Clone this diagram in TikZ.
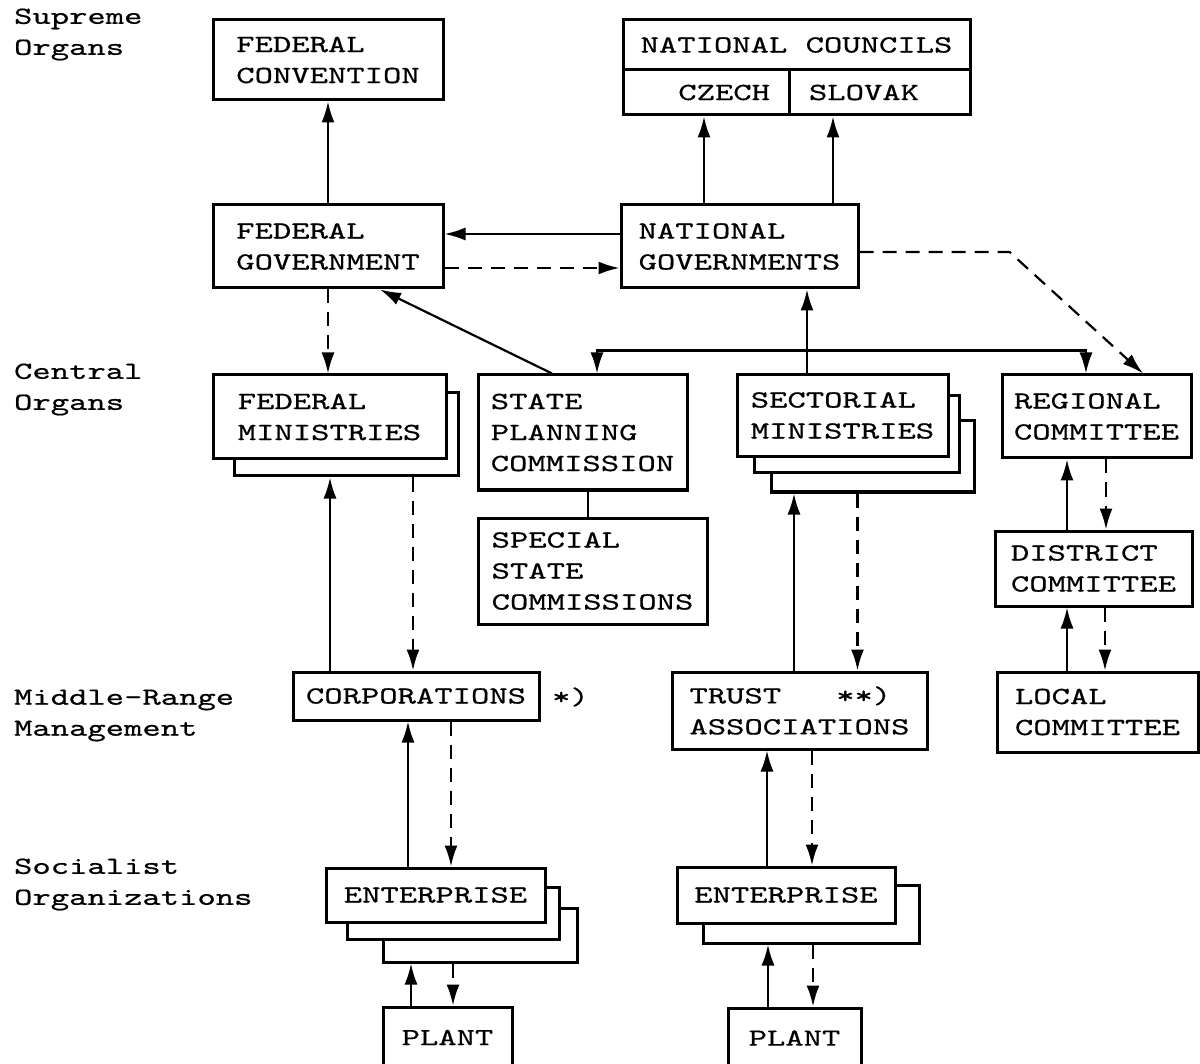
\documentclass[tikz,border=0pt]{standalone}
\usepackage{fontspec}
\newfontfamily\tw{lmmono10-regular.otf}[FakeStretch=1.42,FakeBold=0.6]
\usetikzlibrary{arrows.meta}

\begin{document}
\begin{tikzpicture}[x=1pt, y=-1pt, line width=2.2pt,
        box/.style={draw, fill=white, line width=3pt, inner sep=0pt,
          align=left, font=\tw\fontsize{24.6}{31}\selectfont},
        back/.style={draw, fill=white, line width=3pt, inner sep=0pt},
        lbl/.style={anchor=west, inner sep=0pt, align=left,
          font=\tw\fontsize{24.6}{31}\selectfont},
        dsh/.style={dash pattern=on 14pt off 9pt},
        >={Latex[length=21pt,width=13pt]}]
     \path[use as bounding box, clip] (0,0) rectangle (1200,1064);
     \node (sup) at (13,34.5) [lbl] {Supreme\\Organs};
     \node (cen) at (13,389.5) [lbl] {Central\\Organs};
     \node (mid) at (13,715.5) [lbl] {Middle-Range\\Management};
     \node (soc) at (13,884.5) [lbl] {Socialist\\Organizations};
     \node (fconv) at (328,60) [box, minimum width=230pt, minimum height=80pt] {FEDERAL\\CONVENTION};
     \node (ncoun) at (796.5,45) [box, minimum width=347pt, minimum height=50pt] {NATIONAL COUNCILS};
     \node (czech) at (706,92.5) [box, text width=128pt, inner xsep=19pt, align=right, minimum height=45pt] {CZECH};
     \node (slovak) at (879.5,92.5) [box, text width=141pt, inner xsep=20pt, minimum height=45pt] {SLOVAK};
     \node (fgov) at (328,246.5) [box, minimum width=230pt, minimum height=83pt] {FEDERAL\\GOVERNMENT};
     \node (ngov) at (739.5,246.5) [box, minimum width=237pt, minimum height=83pt] {NATIONAL\\GOVERNMENTS};
     \node (fminb) at (346,434.5) [back, minimum width=224pt, minimum height=83pt] {};
     \node (fmin) at (329.5,417) [box, minimum width=233pt, minimum height=84pt] {FEDERAL\\MINISTRIES};
     \node (spc) at (582.5,432.5) [box, minimum width=209pt, minimum height=115pt] {STATE\\PLANNING\\COMMISSION};
     \node (ssc) at (592.5,571) [box, minimum width=229pt, minimum height=106pt] {SPECIAL\\STATE\\COMMISSIONS};
     \node (sectc) at (872.5,456.5) [back, minimum width=203pt, minimum height=71pt] {};
     \node (sectb) at (856.5,434.5) [back, minimum width=205pt, minimum height=77pt] {};
     \node (sect) at (842.5,415.5) [box, minimum width=211pt, minimum height=82pt] {SECTORIAL\\MINISTRIES};
     \node (reg) at (1096.5,416.5) [box, minimum width=189pt, minimum height=83pt] {REGIONAL\\COMMITTEE};
     \node (dist) at (1093.5,568.5) [box, minimum width=197pt, minimum height=75pt] {DISTRICT\\COMMITTEE};
     \node (local) at (1097.5,712) [box, minimum width=201pt, minimum height=80pt] {LOCAL\\COMMITTEE};
     \node (corp) at (416,696) [box, minimum width=246pt, minimum height=48pt] {CORPORATIONS};
     \node (star) at (551,697) [lbl] {*)};
     \node (trust) at (799.5,710.5) [box, minimum width=255pt, minimum height=77pt] {TRUST\ \ \ **)\\ASSOCIATIONS};
     \node (entlc) at (480,935) [back, minimum width=194pt, minimum height=54pt] {};
     \node (entlb) at (453,913) [back, minimum width=212pt, minimum height=52pt] {};
     \node (entl) at (435.5,895) [box, minimum width=219pt, minimum height=54pt] {ENTERPRISE};
     \node (plantl) at (447.5,1037.5) [box, minimum width=129pt, minimum height=61pt] {PLANT};
     \node (entrb) at (811,914) [back, minimum width=216pt, minimum height=58pt] {};
     \node (entr) at (786,895) [box, minimum width=218pt, minimum height=56pt] {ENTERPRISE};
     \node (plantr) at (794.5,1038) [box, minimum width=133pt, minimum height=60pt] {PLANT};
      \draw[->] (fgov.north) -- (fconv.south);
      \draw[->] ([xshift=-35.5pt]ngov.north) -- ([xshift=-35.5pt]ngov.north |- czech.south);
      \draw[->] ([xshift=93.5pt]ngov.north) -- ([xshift=93.5pt]ngov.north |- slovak.south);
      \draw[->] ([yshift=12.5pt]ngov.west) -- ([yshift=12.5pt]fgov.east);
      \draw[dsh,->] ([yshift=-21.5pt]fgov.east) -- ([yshift=-21.5pt]ngov.west);
      \draw[dsh,->] ([yshift=-5.5pt]ngov.east) -- ++(150,0) -- ([xshift=46.5pt]reg.north);
      \draw[->] ([xshift=-30.5pt]spc.north) -- ([xshift=52pt]fgov.south);
      \draw[dsh,->] (fgov.south) -- (fgov.south |- fmin.north);
      \draw[->] ([xshift=-35.5pt]sect.north) -- ([xshift=-35.5pt]sect.north |- ngov.south);
      \draw[<->] ([xshift=14.5pt]spc.north) -- ++(0,-23) -| ([xshift=-10.5pt]reg.north);
      \draw ([xshift=5.5pt]spc.south) -- ([xshift=5.5pt]spc.south |- ssc.north);
      \draw[->] ([xshift=-86pt]corp.north) -- ([xshift=-86pt]corp.north |- fminb.south);
      \draw[dsh,->] ([xshift=-3pt]corp.north |- fminb.south) -- ([xshift=-3pt]corp.north);
      \draw[->] ([xshift=-27.5pt]entl.north) -- ([xshift=-27.5pt]entl.north |- corp.south);
      \draw[dsh,->] ([xshift=15.5pt]entl.north |- corp.south) -- ([xshift=15.5pt]entl.north);
      \draw[->] ([xshift=-36.5pt]plantl.north) -- ([xshift=-36.5pt]plantl.north |- entlc.south);
      \draw[dsh,->] ([xshift=5.5pt]plantl.north |- entlc.south) -- ([xshift=5.5pt]plantl.north);
      \draw[->] ([xshift=-5.5pt]trust.north) -- ([xshift=-5.5pt]trust.north |- sectc.south);
      \draw[dsh,->] ([xshift=58pt]trust.north |- sectc.south) -- ([xshift=58pt]trust.north);
      \draw[->] ([xshift=-19pt]entr.north) -- ([xshift=-19pt]entr.north |- trust.south);
      \draw[dsh,->] ([xshift=26pt]entr.north |- trust.south) -- ([xshift=26pt]entr.north);
      \draw[->] ([xshift=-26.5pt]plantr.north) -- ([xshift=-26.5pt]plantr.north |- entrb.south);
      \draw[dsh,->] ([xshift=18.5pt]plantr.north |- entrb.south) -- ([xshift=18.5pt]plantr.north);
      \draw[->] ([xshift=-26.5pt]dist.north) -- ([xshift=-26.5pt]dist.north |- reg.south);
      \draw[dsh,->] ([xshift=12.5pt]dist.north |- reg.south) -- ([xshift=12.5pt]dist.north);
      \draw[->] ([xshift=-30.5pt]local.north) -- ([xshift=-30.5pt]local.north |- dist.south);
      \draw[dsh,->] ([xshift=7.5pt]local.north |- dist.south) -- ([xshift=7.5pt]local.north);
\end{tikzpicture}
\end{document}
